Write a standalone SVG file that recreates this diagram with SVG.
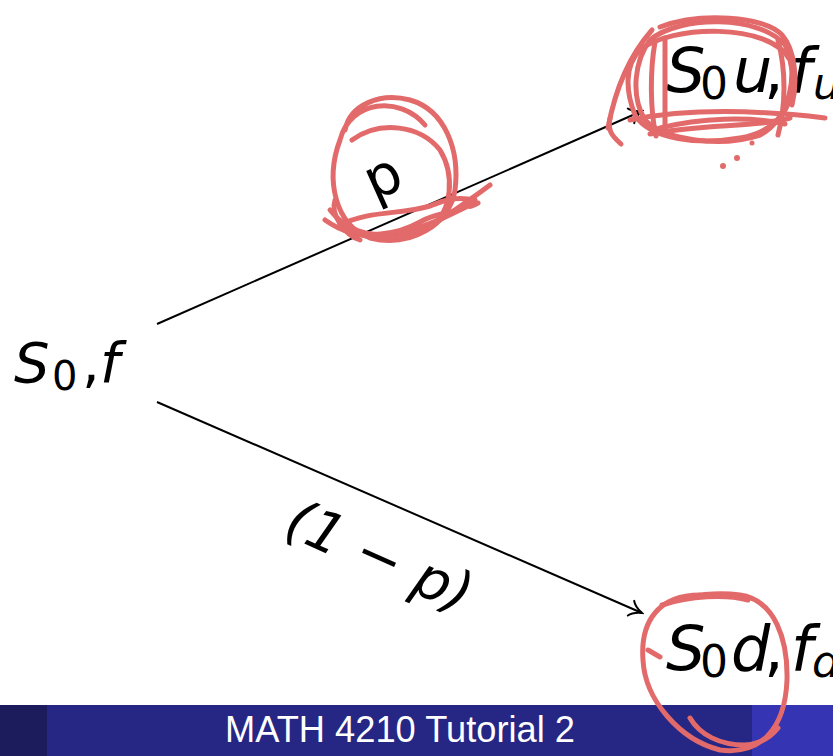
<svg xmlns="http://www.w3.org/2000/svg" width="833" height="756" viewBox="0 0 833 756">
<style>
.t{font-family:"DejaVu Sans","Liberation Sans",sans-serif;fill:#000}
.i{font-style:italic}
.edge{stroke:#000;stroke-width:2;fill:none}
.ink{stroke:#e36a6a;stroke-width:5;fill:none;stroke-linecap:round;stroke-linejoin:round}
.foot{font-family:"Liberation Sans",sans-serif;fill:#fff;font-size:36px}
</style>
<defs>
<marker id="arr" markerUnits="userSpaceOnUse" viewBox="-14 -10 16 20" refX="0" refY="0" markerWidth="16" markerHeight="20" orient="auto">
<path d="M -12 -8 C -9 -3, -3 -1, 0 0 C -3 1, -9 3, -12 8" stroke="#000" stroke-width="2" fill="none" stroke-linecap="round"/>
</marker>
</defs>
<rect width="833" height="756" fill="#fff"/>
<g id="footer">
<rect x="0" y="705" width="833" height="51" fill="#262684"/>
<rect x="0" y="705" width="47" height="51" fill="#1c1b5c"/>
<rect x="752" y="705" width="81" height="51" fill="#3535b3"/>
<text class="foot" x="400" y="742" text-anchor="middle" textLength="350" lengthAdjust="spacingAndGlyphs">MATH 4210 Tutorial 2</text>
</g>
<g id="connectors">
<line class="edge" x1="157" y1="324" x2="642" y2="111" marker-end="url(#arr)"/>
<line class="edge" x1="157" y1="402" x2="642" y2="613" marker-end="url(#arr)"/>
<text class="t" font-size="56" transform="translate(384,180) rotate(-24)" text-anchor="middle" dominant-baseline="middle">p</text>
<text class="t i" font-size="56" transform="translate(378,560) rotate(24)" text-anchor="middle" dominant-baseline="middle">(1 − p)</text>
</g>
<g id="node-root">
<text class="t" font-size="56"><tspan class="i" x="14" y="382">S</tspan><tspan x="52" y="390" font-size="40">0</tspan><tspan x="82" y="382">,</tspan><tspan class="i" x="100" y="382">f</tspan></text>
</g>
<g id="node-up">
<text class="t" font-size="62"><tspan class="i" x="666" y="92">S</tspan><tspan x="700" y="99" font-size="44">0</tspan><tspan class="i" x="733" y="92">u</tspan><tspan x="764" y="92">,</tspan><tspan class="i" x="790" y="92">f</tspan><tspan class="i" x="813" y="99" font-size="44">u</tspan></text>
</g>
<g id="node-down">
<text class="t" font-size="62"><tspan class="i" x="666" y="670">S</tspan><tspan x="700" y="677" font-size="44">0</tspan><tspan class="i" x="731" y="670">d</tspan><tspan x="764" y="670">,</tspan><tspan class="i" x="791" y="670">f</tspan><tspan class="i" x="812" y="677" font-size="44">d</tspan></text>
</g>
<g id="annotations">
<path class="ink" d="M 425 125 C 400 95, 350 100, 340 140 C 325 180, 335 225, 370 238 C 410 248, 450 225, 455 190 C 460 150, 445 110, 410 100 C 380 92, 350 105, 345 130"/>
<path class="ink" d="M 352 140 C 380 120, 420 125, 440 150 C 455 175, 452 210, 432 226"/>
<path class="ink" d="M 330 210 C 350 235, 380 240, 410 230 C 430 225, 450 215, 470 205"/>
<path class="ink" d="M 325 220 C 360 245, 410 240, 440 220 C 455 210, 470 200, 490 185"/>
<path class="ink" d="M 340 225 C 370 210, 400 215, 430 206 C 445 200, 455 196, 475 200 C 470 205, 465 210, 478 203"/>
<path class="ink" d="M 335 200 C 330 215, 345 235, 360 240"/>
<path class="ink" d="M 345 228 C 365 238, 395 236, 420 222 C 430 216, 440 214, 452 212"/>
<path class="ink" d="M 650 40 C 680 15, 760 15, 785 45 C 800 70, 790 120, 760 135 C 720 148, 665 140, 645 120 C 630 95, 635 60, 650 40"/>
<path class="ink" d="M 640 50 C 670 25, 770 22, 790 60 C 800 95, 785 130, 740 138 C 700 145, 650 140, 635 115 C 625 90, 625 65, 640 50"/>
<path class="ink" d="M 660 27 C 700 12, 765 16, 782 35 C 795 50, 798 80, 792 105"/>
<path class="ink" d="M 665 38 L 665 130"/>
<path class="ink" d="M 655 42 C 650 70, 650 110, 656 136"/>
<path class="ink" d="M 778 40 C 786 70, 786 105, 778 135"/>
<path class="ink" d="M 608 128 C 615 90, 630 55, 652 30"/>
<path class="ink" d="M 621 144 C 612 136, 607 130, 610 118"/>
<path class="ink" d="M 630 120 C 680 110, 740 108, 825 118"/>
<path class="ink" d="M 650 134 C 700 124, 760 127, 790 118"/>
<path class="ink" d="M 660 128 C 700 118, 750 116, 785 124"/>
<circle cx="723" cy="166" r="3" fill="#e36a6a"/>
<circle cx="737" cy="158" r="3" fill="#e36a6a"/>
<circle cx="752" cy="143" r="2.5" fill="#e36a6a"/>
<path class="ink" d="M 700 595 C 660 595, 640 620, 643 660 C 645 700, 680 740, 720 750 C 760 755, 785 730, 787 680 C 788 640, 775 600, 740 595 C 720 592, 690 594, 668 602"/>
<path class="ink" d="M 662 605 C 690 596, 725 594, 748 600"/>
<path class="ink" d="M 690 718 C 700 735, 720 745, 745 745 C 760 744, 770 738, 778 728"/>
<path class="ink" d="M 648 650 L 660 657"/>
</g>
</svg>
